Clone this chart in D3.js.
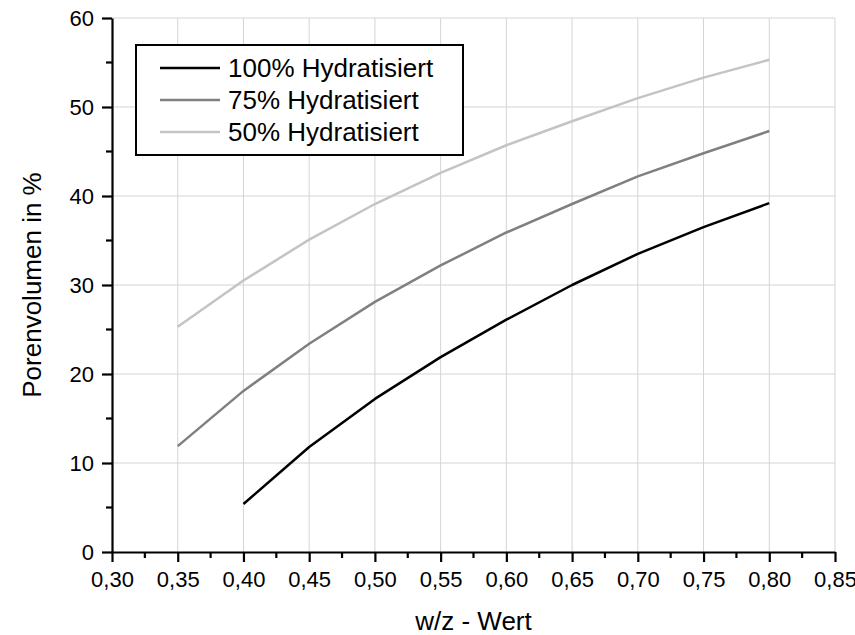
<!DOCTYPE html>
<html lang="de">
<head>
<meta charset="UTF-8"/>
<title>Porenvolumen</title>
<script src="https://d3js.org/d3.v7.min.js"></script>
<style>
  body { margin: 0; background: #fff; }
  text { font-family: "Liberation Sans", Arial, sans-serif; fill: #000; }
  .tick text { font-size: 22px; }
</style>
</head>
<body>
<script>
// ----- data -----
var wz = [0.35, 0.40, 0.45, 0.50, 0.55, 0.60, 0.65, 0.70, 0.75, 0.80];
var hyd100 = [null, 5.4, 11.8, 17.2, 21.9, 26.1, 30.0, 33.5, 36.5, 39.2];
var hyd75 = [11.9, 18.1, 23.4, 28.1, 32.2, 35.9, 39.1, 42.2, 44.8, 47.3];
var hyd50 = [25.3, 30.5, 35.1, 39.1, 42.6, 45.7, 48.4, 51.0, 53.3, 55.3];
var seriesNames = ["100% Hydratisiert", "75% Hydratisiert", "50% Hydratisiert"];
var seriesColors = ["#000000", "#808080", "#c4c4c4"];
var xTicks = [0.30, 0.35, 0.40, 0.45, 0.50, 0.55, 0.60, 0.65, 0.70, 0.75, 0.80, 0.85];
var yTicks = [0, 10, 20, 30, 40, 50, 60];

var w = 855, h = 635;
var plotL = 112, plotR = 835, plotT = 18, plotB = 552;

var svg = d3.select("body").append("svg")
  .attr("width", w).attr("height", h);

var xScale = d3.scaleLinear().domain([0.30, 0.85]).range([plotL, plotR]);
var yScale = d3.scaleLinear().domain([0, 60]).range([plotB, plotT]);

// ----- grid -----
svg.append("g").selectAll("line")
  .data(xTicks.slice(1))
  .enter().append("line")
  .attr("x1", function(d) { return xScale(d); })
  .attr("x2", function(d) { return xScale(d); })
  .attr("y1", plotT).attr("y2", plotB)
  .attr("stroke", "#d4d4d4").attr("stroke-width", 1);

svg.append("g").selectAll("line")
  .data(yTicks.slice(1))
  .enter().append("line")
  .attr("y1", function(d) { return yScale(d); })
  .attr("y2", function(d) { return yScale(d); })
  .attr("x1", plotL).attr("x2", plotR)
  .attr("stroke", "#d4d4d4").attr("stroke-width", 1);

// ----- axes -----
var fmt = function(d) { return d3.format(".2f")(d).replace(".", ","); };

var xAxis = d3.axisBottom(xScale).tickValues(xTicks).tickFormat(fmt)
  .tickSizeInner(10).tickSizeOuter(0).tickPadding(9);
var gx = svg.append("g").attr("transform", "translate(0," + plotB + ")").call(xAxis);

var yAxis = d3.axisLeft(yScale).tickValues(yTicks)
  .tickSizeInner(10).tickSizeOuter(0).tickPadding(8);
var gy = svg.append("g").attr("transform", "translate(" + plotL + ",0)").call(yAxis);

[gx, gy].forEach(function(g) {
  g.attr("font-size", 22).attr("font-family", "'Liberation Sans', Arial, sans-serif");
  g.select(".domain").attr("stroke", "#000").attr("stroke-width", 2.2);
  g.selectAll(".tick line").attr("stroke", "#000").attr("stroke-width", 2.2);
  g.selectAll(".tick text").attr("fill", "#000");
});

// minor ticks
var xMinor = xTicks.slice(0, -1).map(function(d) { return d + 0.025; });
svg.append("g").selectAll("line").data(xMinor).enter().append("line")
  .attr("x1", function(d) { return xScale(d); })
  .attr("x2", function(d) { return xScale(d); })
  .attr("y1", plotB).attr("y2", plotB + 6)
  .attr("stroke", "#000").attr("stroke-width", 2.2);

var yMinor = yTicks.slice(0, -1).map(function(d) { return d + 5; });
svg.append("g").selectAll("line").data(yMinor).enter().append("line")
  .attr("y1", function(d) { return yScale(d); })
  .attr("y2", function(d) { return yScale(d); })
  .attr("x1", plotL - 6).attr("x2", plotL)
  .attr("stroke", "#000").attr("stroke-width", 2.2);

// ----- lines -----
var allSeries = [hyd100, hyd75, hyd50];
var line = d3.line()
  .defined(function(d) { return d[1] !== null; })
  .x(function(d) { return xScale(d[0]); })
  .y(function(d) { return yScale(d[1]); });

// draw lightest first so black sits on top
for (var s = allSeries.length - 1; s >= 0; s--) {
  var pts = wz.map(function(x, i) { return [x, allSeries[s][i]]; });
  svg.append("path")
    .datum(pts)
    .attr("d", line)
    .attr("fill", "none")
    .attr("stroke", seriesColors[s])
    .attr("stroke-width", 2.5)
    .attr("stroke-linejoin", "round");
}

// ----- legend -----
var lg = svg.append("g");
lg.append("rect")
  .attr("x", 136).attr("y", 45).attr("width", 327).attr("height", 110)
  .attr("fill", "#fff").attr("stroke", "#000").attr("stroke-width", 2);

seriesNames.forEach(function(name, i) {
  var yy = 68 + i * 32;
  lg.append("line")
    .attr("x1", 160).attr("x2", 220).attr("y1", yy).attr("y2", yy)
    .attr("stroke", seriesColors[i]).attr("stroke-width", 2.5);
  lg.append("text")
    .attr("x", 228).attr("y", yy + 9)
    .style("font-size", "26px")
    .text(name);
});

// ----- axis titles -----
svg.append("text")
  .attr("x", (plotL + plotR) / 2).attr("y", 630)
  .attr("text-anchor", "middle")
  .style("font-size", "26px")
  .text("w/z - Wert");

svg.append("text")
  .attr("transform", "translate(41," + ((plotT + plotB) / 2) + ") rotate(-90)")
  .attr("text-anchor", "middle")
  .style("font-size", "26px")
  .text("Porenvolumen in %");
</script>
</body>
</html>
